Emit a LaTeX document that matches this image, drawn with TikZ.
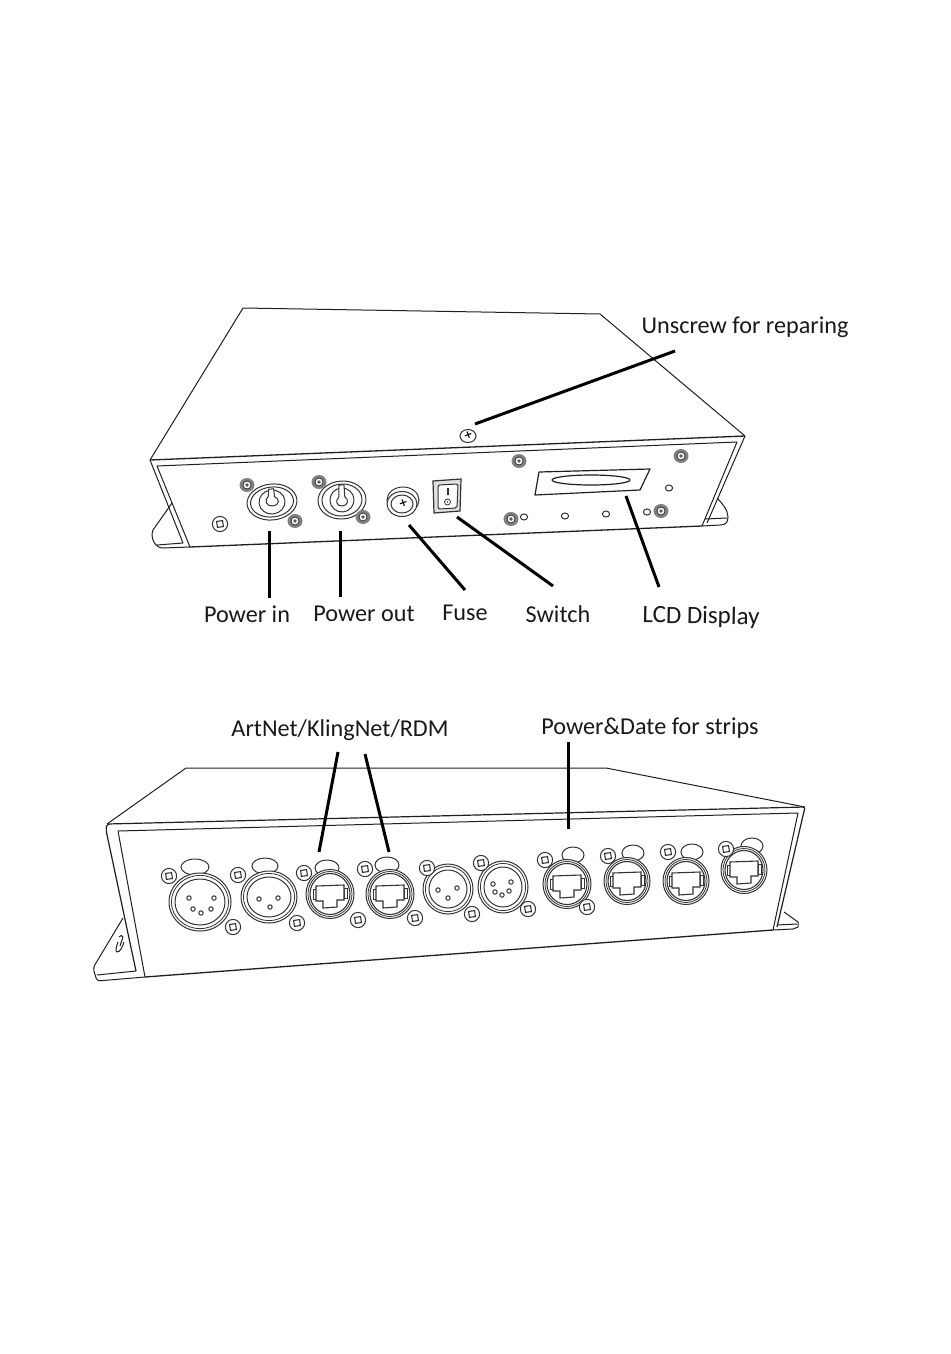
\documentclass[tikz,border=0pt]{standalone}
\usepackage{fontspec}
\setmainfont{Carlito}
\tikzset{
  body/.style={draw=black!88,line width=1pt,line join=round},
  fine/.style={draw=black!80,line width=.8pt},
  leader/.style={draw=black,line width=3pt},
  lbl/.style={font=\fontsize{24.2}{28}\selectfont,text=black!90,inner sep=0pt},
}
% screw: head circle with a small tilted square
\newcommand{\squarescrew}[2]{%
  \draw[fine,line width=1pt,fill=white] (#1,#2) circle (7.6);
  \draw[fine,line width=1.1pt,rotate around={8:(#1,#2)}] (#1-3,#2-3) rectangle (#1+3,#2+3);}
% dark round screw of the top panel
\newcommand{\darkscrew}[2]{%
  \fill[black!50] (#1,#2) ellipse [x radius=7.5,y radius=7];
  \draw[fine,fill=white] (#1,#2) circle (4);
  \fill[black!65] (#1,#2) circle (1.8);}
\newcommand{\hole}[2]{\draw[fine,line width=1pt] (#1,#2) ellipse [x radius=3.6,y radius=3];}
\newcommand{\porttab}[3]{\draw[fine,line width=1pt,fill=white] (#1,#2) ellipse [x radius=#3,y radius=8];}
% XLR body: cx cy rx ry
\newcommand{\xlrbody}[4]{%
  \draw[fine,line width=1pt,fill=white] (#1,#2) ellipse [x radius=#3,y radius=#4];
  \draw[fine] (#1,#2) ellipse [x radius=#3-2.4,y radius=#4-2.4];
  \draw[fine,line width=1pt] (#1,#2) ellipse [x radius=#3-6,y radius=#4-6];}
\newcommand{\pin}[2]{\draw[fine,line width=1pt] (#1,#2) circle (2.2);}
% Ethernet socket: cx cy r
\newcommand{\rjport}[3]{%
  \draw[fine,line width=1pt,fill=white] (#1,#2) ellipse [x radius=#3,y radius=#3+.5];
  \draw[fine] (#1,#2) ellipse [x radius=#3-2,y radius=#3-1.5];
  \draw[fine,line width=1.1pt] (#1,#2) ellipse [x radius=#3-4,y radius=#3-3.5];
  \draw[fine,line width=1pt,fill=white] (#1-17,#2-5) rectangle (#1-14,#2+5);
  \draw[fine,line width=1pt,fill=white] (#1+14,#2-6) rectangle (#1+17,#2+4);
  \draw[fine,line width=1.1pt,fill=white] (#1-14,#2-8) -- (#1+14,#2-9) -- (#1+14,#2+6) -- (#1+7,#2+6) -- (#1+7,#2+13) -- (#1-7,#2+14) -- (#1-7,#2+7) -- (#1-14,#2+7) -- cycle;}
\begin{document}
\begin{tikzpicture}[x=1pt,y=-1pt]
\useasboundingbox (0,0) rectangle (950,1354);
\fill[white] (0,0) rectangle (950,1354);

% ===== upper unit =====
\draw[body] (150,460) -- (243,308) -- (600,314) -- (745,436);
\draw[body,line width=1.3pt] (150,460) -- (745,436);
\draw[body] (157,466) -- (737,442);
\draw[body] (150,460) -- (183,543);
\draw[body] (157,466) -- (190,547);
\draw[body] (745,436) -- (707,523);
\draw[body] (737,442) -- (702,526);
\draw[body,line width=1.3pt] (190,547) -- (702,526);
% flanges
\draw[body] (172,503) -- (153,530) .. controls (150,538) and (155,548) .. (163,548) -- (190,547);
\draw[body] (157,545) -- (183,543);
\draw[body] (717,498) .. controls (722,503) and (728,510) .. (728,517) .. controls (728,523) and (725,525) .. (720,525) -- (702,526);
\draw[body] (705,519) -- (727,518);

% power in
\squarescrew{220}{524}
\begin{scope}[shift={(272,502)},rotate=6]
  \draw[fine,line width=1pt] (0,0) ellipse [x radius=25,y radius=18];
  \draw[fine,line width=1pt] (0,0) ellipse [x radius=21.5,y radius=15];
  \draw[fine,line width=1pt] (0,0) ellipse [x radius=13,y radius=12];
  \draw[fine,line width=1pt,fill=white] (-3,-6) -- (-2,-13) -- (3,-13) -- (3,-5) .. controls (8,-3) and (8,4) .. (0,4) .. controls (-6,4) and (-8,-3) .. (-3,-6);
\end{scope}
\darkscrew{247}{485}
\darkscrew{295}{521}
% power out
\begin{scope}[shift={(342,500)},rotate=4]
  \draw[fine,line width=1pt] (0,0) ellipse [x radius=24,y radius=19];
  \draw[fine,line width=1pt] (0,0) ellipse [x radius=20,y radius=16];
  \draw[fine,line width=1pt] (0,0) ellipse [x radius=12,y radius=12];
  \draw[fine,line width=1pt,fill=white] (-3,-3) -- (-2,-15) -- (3,-15) -- (3,-3) .. controls (7,0) and (6,6) .. (0,6) .. controls (-6,6) and (-7,0) .. (-3,-3);
\end{scope}
\darkscrew{319}{482}
\darkscrew{363}{517}
% fuse
\draw[fine,line width=1pt] (403,500) ellipse [x radius=16,y radius=13];
\draw[fine,line width=1pt,fill=white] (402,504) ellipse [x radius=15,y radius=12.5];
\draw[fine,line width=1pt] (402,504) ellipse [x radius=11,y radius=9];
\node[inner sep=0pt,font=\fontsize{13}{13}\selectfont\bfseries,rotate=-25] (fuseMark) at (403,504) {×};
% switch
\draw[fine,line width=1.2pt,fill=black!12] (433,481) -- (461,479) -- (460,511) -- (434,513) -- cycle;
\draw[fine,line width=1pt,fill=white,rounded corners=2pt] (438,485) -- (458,484) -- (457,508) -- (438,509) -- cycle;
\fill[black!80] (446.5,488) rectangle (449,495);
\draw[fine] (447.5,502) circle (3);
\fill[black!55] (447.5,502) circle (1.2);
% top cover screw
\draw[fine,line width=1pt] (468,436) ellipse [x radius=8,y radius=6.5];
\node[inner sep=0pt,font=\fontsize{13}{13}\selectfont\bfseries,rotate=-25] (coverMark) at (468,436) {×};
% panel screws and holes
\darkscrew{519}{461}
\darkscrew{681}{456}
\darkscrew{511}{519}
\darkscrew{661}{511}
\hole{524}{517}\hole{565}{516}\hole{606}{514}\hole{647}{512}\hole{669}{488}
% display
\draw[body,line width=1.2pt] (539,472) -- (650,469) -- (640,490) -- (535,495) -- cycle;
\draw[body,line width=1.2pt] (591,480) ellipse [x radius=39,y radius=5];

% ===== lower unit =====
\draw[body] (107,824) -- (186,768) -- (606,768) -- (805,807);
\draw[body,line width=1.2pt,rounded corners=2pt] (136,971) -- (106,830) -- (107,824) -- (805,807) -- (777,927);
\draw[body] (118,831) -- (798,813);
\draw[body] (118,831) -- (145,977);
\draw[body] (798,813) -- (773,930);
\draw[body,line width=1.3pt] (145,977) -- (773,930);
% flanges
\draw[body,rounded corners=3pt] (123,918) -- (93,968) -- (97,981) -- (145,977);
\draw[body] (97,975) -- (136,971);
\draw[body] (118,942) .. controls (116,948) and (115,951) .. (117,952) .. controls (120,952) and (122,948) .. (124,942);
\draw[body] (119,937) .. controls (120,935) and (123,935) .. (123,937) -- (120,946);
\draw[body] (784,912) -- (798,922) -- (798,927) -- (793,929) -- (773,930);
\draw[body] (777,925) -- (797,924);

% connector row
\porttab{195}{867}{14}
\xlrbody{200}{902}{31}{29}
\pin{189}{898}\pin{214}{898}\pin{193}{909}\pin{201}{913}\pin{211}{909}
\squarescrew{169}{876}\squarescrew{233}{927}

\porttab{265}{866}{13}
\xlrbody{269}{897}{28}{26}
\pin{259}{899}\pin{278}{898}\pin{270}{907}
\squarescrew{238}{875}\squarescrew{297}{923}

\porttab{327}{868}{12}
\rjport{330}{894}{24}
\squarescrew{304}{873}\squarescrew{358}{920}

\porttab{387}{865}{12}
\rjport{390}{894}{24}
\squarescrew{365}{869}\squarescrew{415}{918}

\xlrbody{448}{889}{25}{25}
\pin{438}{890}\pin{457}{888}\pin{448}{898}
\squarescrew{427}{868}\squarescrew{472}{914}

\xlrbody{503}{887}{25}{26}
\pin{493}{884}\pin{511}{882}\pin{495}{892}\pin{502}{895}\pin{509}{891}
\squarescrew{481}{863}\squarescrew{528}{909}

\porttab{573}{855}{11}
\rjport{567}{884}{24}
\squarescrew{545}{860}\squarescrew{587}{907}

\porttab{633}{853}{11}
\rjport{627}{881}{23}
\squarescrew{608}{856}

\porttab{692}{852}{11}
\rjport{686}{881}{23}
\squarescrew{668}{852}

\porttab{752}{846}{11}
\rjport{744}{870}{23}
\squarescrew{726}{849}

% ===== labels =====
\node[lbl] (unscrew) at (745,327) {Unscrew for reparing};
\node[lbl] (powerin) at (247,614) {Power in};
\node[lbl] (powerout) at (364,614) {Power out};
\node[lbl] (fuse) at (465,613) {Fuse};
\node[lbl] (switch) at (558,614) {Switch};
\node[lbl,font=\fontsize{25}{28}\selectfont,rotate=-1] (lcd) at (701,617) {LCD Display};
\node[lbl] (artnet) at (340,730) {ArtNet/KlingNet/RDM};
\node[lbl] (powerdate) at (650,728) {Power\&Date for strips};

% ===== leader lines =====
\coordinate (a1) at (675,351); \coordinate (a2) at (475,424);
\coordinate (b1) at (269,598); \coordinate (b2) at (269,531);
\coordinate (c1) at (340,597); \coordinate (c2) at (340,531);
\coordinate (d1) at (465,590); \coordinate (d2) at (409,525);
\coordinate (e1) at (553,586); \coordinate (e2) at (457,517);
\coordinate (f1) at (659,587); \coordinate (f2) at (626,496);
\coordinate (g1) at (338,752); \coordinate (g2) at (319,852);
\coordinate (h1) at (365,754); \coordinate (h2) at (389,852);
\coordinate (i1) at (568,742); \coordinate (i2) at (568,829);
\foreach \p/\q in {a1/a2,b1/b2,c1/c2,d1/d2,e1/e2,f1/f2,g1/g2,h1/h2,i1/i2}
  \draw[leader] (\p) -- (\q);
\end{tikzpicture}
\end{document}
